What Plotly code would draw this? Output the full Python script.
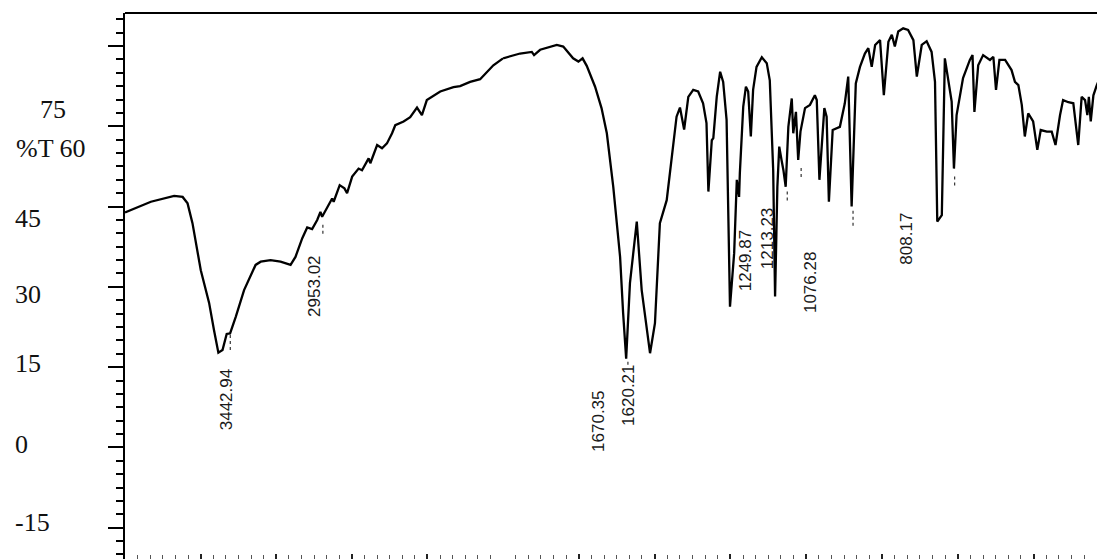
import plotly.graph_objects as go

# ---------------- data ----------------
WAVENUMBER = [4000, 3863, 3740, 3695, 3669, 3643, 3599, 3555, 3529, 3506,
              3484, 3462, 3444, 3414, 3370, 3309, 3282, 3230, 3177, 3147,
              3124, 3098, 3062, 3036, 3010, 2983, 2966, 2957, 2930, 2904,
              2896, 2864, 2839, 2825, 2798, 2764, 2746, 2711, 2702, 2666,
              2640, 2614, 2587, 2570, 2526, 2491, 2455, 2429, 2403, 2332,
              2262, 2227, 2174, 2121, 2051, 2000, 1955, 1924, 1918, 1902,
              1876, 1858, 1841, 1815, 1801, 1790, 1779, 1757, 1740, 1726,
              1709, 1691, 1683, 1675, 1665, 1647, 1634, 1621, 1612, 1599,
              1586, 1568, 1542, 1533, 1522, 1511, 1498, 1485, 1472, 1463,
              1458, 1449, 1445, 1436, 1427, 1419, 1410, 1401, 1390, 1383,
              1377, 1375, 1366, 1359, 1353, 1346, 1340, 1331, 1317, 1304,
              1296, 1287, 1282, 1276, 1271, 1265, 1260, 1254, 1247, 1238,
              1234, 1227, 1221, 1215, 1203, 1190, 1177, 1172, 1165, 1152,
              1146, 1140, 1130, 1111, 1098, 1089, 1080, 1069, 1058, 1045,
              1036, 1027, 1018, 1005, 995, 983, 974, 966, 957, 944,
              931, 917, 908, 895, 882, 869, 860, 854, 842, 834,
              825, 816, 810, 803, 786, 768, 761, 756, 746, 733,
              715, 706, 699, 690, 675, 658, 649, 640, 631, 623,
              614, 601, 590, 581, 565, 552, 542, 530, 522, 508,
              495, 482, 473, 464, 458, 454, 449, 442, 433, 425]

TRANSMITTANCE = [43.9, 45.9, 47.0, 46.8, 45.6, 41.9, 33.1, 27.0, 21.9, 17.7,
                 18.2, 21.2, 21.3, 24.4, 29.4, 34.1, 34.7, 35.0, 34.7, 34.3,
                 34.1, 35.6, 39.1, 41.1, 40.8, 42.5, 44.0, 43.1, 44.7, 46.5,
                 45.9, 49.0, 48.4, 47.5, 50.6, 52.1, 51.8, 54.0, 53.1, 56.5,
                 55.9, 56.8, 58.7, 60.2, 60.9, 61.7, 63.5, 62.1, 64.9, 66.5,
                 67.3, 67.5, 68.3, 68.8, 71.4, 72.7, 73.6, 73.9, 73.3, 74.3,
                 74.8, 75.2, 74.9, 72.7, 72.1, 72.7, 71.3, 67.4, 63.4, 58.7,
                 48.7, 35.6, 25.1, 16.6, 30.7, 42.2, 29.4, 21.9, 17.6, 23.2,
                 41.9, 46.2, 61.8, 63.5, 59.4, 65.5, 66.8, 66.5, 64.3, 60.6,
                 47.8, 57.4, 57.8, 65.5, 70.2, 68.3, 61.2, 26.3, 36.3, 50.0,
                 46.8, 51.2, 63.7, 67.4, 66.5, 58.1, 66.8, 71.1, 72.9, 71.8,
                 68.6, 51.8, 28.2, 48.7, 56.2, 53.7, 51.8, 48.7, 59.9, 65.2,
                 58.7, 62.7, 53.7, 59.0, 63.4, 64.0, 65.8, 64.9, 50.0, 63.4,
                 61.8, 45.9, 59.3, 59.9, 64.3, 69.3, 45.0, 68.0, 71.1, 73.6,
                 74.6, 71.1, 75.2, 76.1, 65.8, 75.8, 77.1, 74.9, 77.7, 78.3,
                 78.0, 76.1, 69.3, 75.2, 75.9, 73.9, 68.3, 42.2, 43.4, 72.7,
                 69.0, 64.6, 52.1, 62.1, 69.0, 72.4, 73.3, 62.7, 71.4, 73.3,
                 72.4, 73.0, 66.8, 72.4, 72.4, 70.5, 68.3, 67.7, 64.0, 58.1,
                 62.4, 60.9, 55.6, 59.3, 59.0, 59.0, 56.5, 62.1, 64.9, 64.5,
                 64.3, 56.5, 65.5, 64.9, 62.1, 65.5, 60.9, 65.8, 67.7, 69.0]

PEAK_WN = [3442.94, 2953.02, 1670.35, 1620.21, 1249.87, 1213.23, 1076.28, 808.17]
PEAK_TEXT = ["3442.94", "2953.02", "1670.35", "1620.21",
             "1249.87", "1213.23", "1076.28", "808.17"]
PEAK_MARK_TOP = [21.0, 41.6, 16.0, None, 47.8, 52.2, 44.2, 50.6]
PEAK_MARK_BOTTOM = [17.8, 39.4, 15.1, None, 45.7, 50.0, 41.1, 48.4]

Y_LABELS = ["75", "%T 60", "45", "30", "15", "0", "-15"]

# ---------------- layout constants (page pixels) ----------------
W, H = 1097, 559
ML, MT = 125, 13
BREAK_WN = 2000
SPLIT_PX = 503               # page px of the scale break
D1 = (SPLIT_PX - ML) / (W - ML)
PLOT_H = H - MT

# label placement (page px): (x-shift from peak, vertical centre)
PEAK_LABEL_POS = [(-3, 400), (-9, 286), (-30, 421), (-19, 395),
                  (-42, 261), (-33, 239), (-43, 283), (-48, 239)]
# y label placement (page px): (left, centre)
Y_LABEL_POS = [(38, 109), (14, 148), (13, 218), (13, 294),
               (13, 364), (13, 444), (13, 522)]


def paper_y(py):
    return (H - py) / PLOT_H


hi_x = [w for w in WAVENUMBER if w >= BREAK_WN]
hi_y = [t for w, t in zip(WAVENUMBER, TRANSMITTANCE) if w >= BREAK_WN]
lo_x = [w for w in WAVENUMBER if w <= BREAK_WN]
lo_y = [t for w, t in zip(WAVENUMBER, TRANSMITTANCE) if w <= BREAK_WN]

fig = go.Figure()
line_style = dict(color="black", width=2.3)
fig.add_trace(go.Scatter(x=hi_x, y=hi_y, xaxis="x", yaxis="y", mode="lines",
                         line=line_style, hoverinfo="skip"))
fig.add_trace(go.Scatter(x=lo_x, y=lo_y, xaxis="x2", yaxis="y", mode="lines",
                         line=line_style, hoverinfo="skip"))

# dotted peak markers
mk = {"x": ([], []), "x2": ([], [])}
for wn, t0, t1 in zip(PEAK_WN, PEAK_MARK_TOP, PEAK_MARK_BOTTOM):
    if t0 is None:
        continue
    key = "x" if wn > BREAK_WN else "x2"
    mk[key][0].extend([wn, wn, None])
    mk[key][1].extend([t0, t1, None])
for key, (xs, ys) in mk.items():
    fig.add_trace(go.Scatter(x=xs, y=ys, xaxis=key, yaxis="y", mode="lines",
                             line=dict(color="#333", width=1.2, dash="dot"),
                             hoverinfo="skip"))

annotations = []
for wn, txt, (dx, py) in zip(PEAK_WN, PEAK_TEXT, PEAK_LABEL_POS):
    annotations.append(dict(
        x=wn, xref="x" if wn > BREAK_WN else "x2", xshift=dx,
        y=paper_y(py), yref="paper", text=txt, textangle=-90,
        showarrow=False, xanchor="center", yanchor="middle",
        font=dict(family="Liberation Sans, Arial, sans-serif", size=17, color="#1a1a1a")))
for txt, (lx, py) in zip(Y_LABELS, Y_LABEL_POS):
    annotations.append(dict(
        x=0, xref="paper", xshift=lx - ML, xanchor="left",
        y=paper_y(py), yref="paper", yanchor="middle",
        text=txt, showarrow=False,
        font=dict(family="Liberation Serif, Times New Roman, serif", size=26, color="#111")))

common_x = dict(showgrid=False, zeroline=False, showline=False, showticklabels=False,
                ticks="inside", ticklen=5, tickwidth=1.5, tickcolor="#222", anchor="y")

fig.update_layout(
    width=W, height=H,
    margin=dict(l=ML, r=0, t=MT, b=0, pad=0),
    paper_bgcolor="white", plot_bgcolor="white",
    showlegend=False,
    xaxis=dict(domain=[0, D1], range=[4000, BREAK_WN], tick0=0, dtick=400,
               minor=dict(tick0=0, dtick=400 / 6, ticks="inside", ticklen=4,
                          tickwidth=1, tickcolor="#555"),
               **common_x),
    xaxis2=dict(domain=[D1, 1], range=[BREAK_WN, 432.5], tick0=0, dtick=200,
                minor=dict(tick0=0, dtick=200 / 6, ticks="inside", ticklen=4,
                           tickwidth=1, tickcolor="#555"),
                **common_x),
    yaxis=dict(range=[-20.85, 81.17], anchor="x", showgrid=False, zeroline=False,
               showline=True, linewidth=2, linecolor="black",
               ticks="outside", ticklen=15, tickwidth=1.5, tickcolor="black",
               tick0=0, dtick=15, showticklabels=False,
               minor=dict(dtick=2.5, ticks="outside", ticklen=7, tickwidth=1.5,
                          tickcolor="black")),
    shapes=[dict(type="line", xref="paper", yref="paper", x0=0, x1=1, y0=1, y1=1,
                 line=dict(color="black", width=2))],
    annotations=annotations,
)

fig.write_html(
    "out.html",
    config={"displayModeBar": False},
    post_script="document.body.style.margin='0';document.body.style.overflow='hidden';",
)
